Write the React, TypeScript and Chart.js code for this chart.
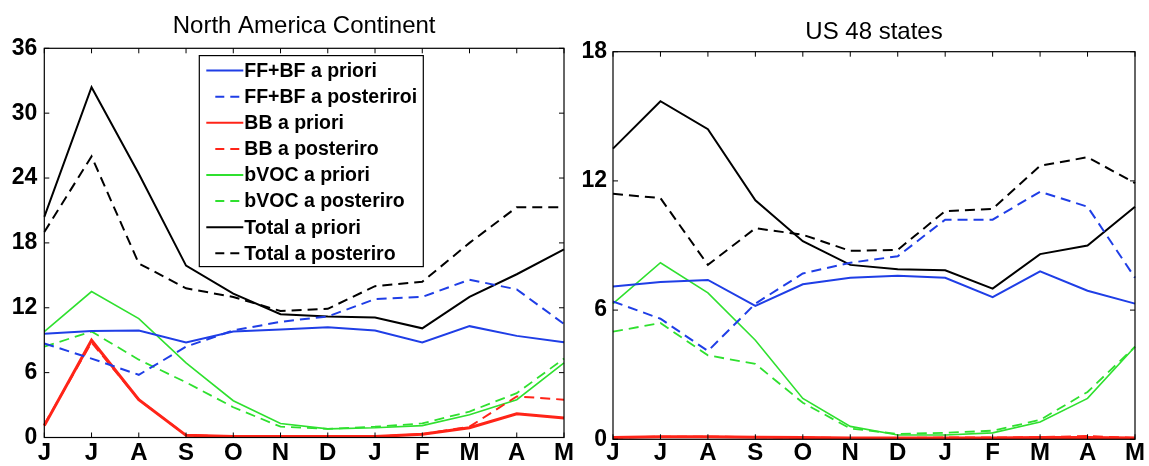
import React, { useEffect, useRef } from 'react';
import { Chart, registerables } from 'chart.js';

Chart.register(...registerables);

// ---------- data ----------
const months = ['J', 'J', 'A', 'S', 'O', 'N', 'D', 'J', 'F', 'M', 'A', 'M'];
const seriesLabels = [
  'FF+BF a priori',
  'FF+BF a posteriroi',
  'BB a priori',
  'BB a posteriro',
  'bVOC a priori',
  'bVOC a posteriro',
  'Total a priori',
  'Total a posteriro',
];

// North America Continent
const naFFPrior = [9.6, 9.85, 9.9, 8.8, 9.8, 10.0, 10.2, 9.9, 8.8, 10.3, 9.4, 8.8];
const naFFPost = [8.7, 7.3, 5.8, 8.4, 9.9, 10.7, 11.2, 12.8, 13.0, 14.6, 13.7, 10.5];
const naBBPrior = [1.1, 9.0, 3.5, 0.2, 0.1, 0.1, 0.1, 0.1, 0.3, 0.9, 2.2, 1.8];
const naBBPost = [1.2, 8.8, 3.5, 0.2, 0.1, 0.1, 0.1, 0.1, 0.3, 1.0, 3.8, 3.5];
const naVOCPrior = [9.8, 13.5, 11.0, 6.9, 3.4, 1.3, 0.8, 0.9, 1.1, 2.1, 3.5, 6.9];
const naVOCPost = [8.4, 9.8, 7.2, 5.1, 2.8, 1.0, 0.8, 1.0, 1.3, 2.4, 4.1, 7.3];
const naTotPrior = [20.4, 32.4, 24.4, 15.9, 13.3, 11.4, 11.2, 11.1, 10.1, 13.0, 15.1, 17.4];
const naTotPost = [19.0, 26.0, 16.1, 13.8, 13.0, 11.7, 11.9, 14.0, 14.4, 18.0, 21.3, 21.3];
const naTicks = [0, 6, 12, 18, 24, 30, 36];

// US 48 states
const usFFPrior = [7.1, 7.3, 7.4, 6.2, 7.2, 7.5, 7.6, 7.5, 6.6, 7.8, 6.9, 6.3];
const usFFPost = [6.4, 5.6, 4.1, 6.3, 7.7, 8.2, 8.5, 10.2, 10.2, 11.5, 10.8, 7.5];
const usBBPrior = [0.08, 0.12, 0.12, 0.1, 0.08, 0.06, 0.06, 0.06, 0.06, 0.08, 0.08, 0.06];
const usBBPost = [0.08, 0.12, 0.12, 0.1, 0.08, 0.06, 0.06, 0.08, 0.08, 0.1, 0.15, 0.06];
const usVOCPrior = [6.3, 8.2, 6.8, 4.6, 1.9, 0.6, 0.2, 0.2, 0.3, 0.8, 1.9, 4.3];
const usVOCPost = [5.0, 5.4, 3.9, 3.5, 1.7, 0.5, 0.25, 0.3, 0.4, 0.9, 2.2, 4.3];
const usTotPrior = [13.5, 15.7, 14.4, 11.1, 9.2, 8.1, 7.9, 7.85, 7.0, 8.6, 9.0, 10.8];
const usTotPost = [11.4, 11.2, 8.1, 9.8, 9.5, 8.75, 8.8, 10.6, 10.7, 12.7, 13.1, 11.9];
const usTicks = [0, 6, 12, 18];

// ---------- styles ----------
const FONT = "'Liberation Sans', Arial, Helvetica, sans-serif";
const BLUE = '#1f3ee6';
const RED = '#ff2418';
const GREEN = '#2fe02f';
const BLACK = '#000000';
const DASH = [10, 6];

const seriesStyle = [
  { color: BLUE, width: 2, dash: [] as number[] },
  { color: BLUE, width: 2, dash: DASH },
  { color: RED, width: 3, dash: [] as number[] },
  { color: RED, width: 2, dash: DASH },
  { color: GREEN, width: 1.6, dash: [] as number[] },
  { color: GREEN, width: 1.8, dash: DASH },
  { color: BLACK, width: 2, dash: [] as number[] },
  { color: BLACK, width: 2, dash: DASH },
];

// ---------- plugins ----------
const framePlugin = {
  id: 'frame',
  afterDatasetsDraw(chart: any) {
    const { ctx, chartArea: a, scales } = chart;
    const tl = 5;
    ctx.save();
    ctx.strokeStyle = '#000';
    ctx.lineWidth = 1.2;
    ctx.setLineDash([]);
    ctx.strokeRect(a.left, a.top, a.right - a.left, a.bottom - a.top);
    ctx.lineWidth = 1;
    const seg = (x1: number, y1: number, x2: number, y2: number) => {
      ctx.beginPath();
      ctx.moveTo(x1, y1);
      ctx.lineTo(x2, y2);
      ctx.stroke();
    };
    scales.x.ticks.forEach((_: any, i: number) => {
      const px = scales.x.getPixelForTick(i);
      seg(px, a.bottom, px, a.bottom - tl);
      seg(px, a.top, px, a.top + tl);
    });
    scales.y.ticks.forEach((_: any, i: number) => {
      const py = scales.y.getPixelForTick(i);
      seg(a.left, py, a.left + tl, py);
      seg(a.right, py, a.right - tl, py);
    });
    ctx.restore();
  },
};

const boxLegendPlugin = {
  id: 'boxLegend',
  afterDraw(chart: any, _args: any, opts: any) {
    if (!opts || !opts.display) return;
    const { ctx, chartArea: a } = chart;
    const left = a.left + opts.offsetX;
    const top = a.top + opts.offsetY;
    const w = opts.width;
    const h = opts.height;
    ctx.save();
    ctx.fillStyle = '#fff';
    ctx.fillRect(left, top, w, h);
    ctx.strokeStyle = '#000';
    ctx.lineWidth = 1.2;
    ctx.setLineDash([]);
    ctx.strokeRect(left, top, w, h);
    ctx.font = `bold 19.5px ${FONT}`;
    ctx.textBaseline = 'middle';
    ctx.textAlign = 'left';
    chart.data.datasets.forEach((ds: any, i: number) => {
      const y = top + 15 + i * 26.1;
      const dashed = ds.borderDash && ds.borderDash.length > 0;
      ctx.strokeStyle = ds.borderColor;
      ctx.lineWidth = 2;
      ctx.beginPath();
      if (dashed) {
        ctx.setLineDash([9, 6]);
        ctx.moveTo(left + 16, y);
        ctx.lineTo(left + 41, y);
      } else {
        ctx.setLineDash([]);
        ctx.moveTo(left + 7, y);
        ctx.lineTo(left + 44, y);
      }
      ctx.stroke();
      ctx.setLineDash([]);
      ctx.fillStyle = '#000';
      ctx.fillText(ds.label, left + 45, y + 1);
    });
    ctx.restore();
  },
};

// ---------- panel ----------
type PanelProps = {
  title: string;
  series: number[][];
  yTicks: number[];
  left: number;
  width: number;
  axisWidth: number;
  axisHeight: number;
  padRight: number;
  titlePadTop: number;
  titlePadBottom: number;
  xPad: number;
  yPad: number;
  legend: boolean;
};

function Panel(p: PanelProps) {
  const ref = useRef<HTMLCanvasElement | null>(null);
  useEffect(() => {
    if (!ref.current) return;
    const yMax = p.yTicks[p.yTicks.length - 1];
    const chart = new Chart(ref.current, {
      type: 'line',
      data: {
        labels: months,
        datasets: p.series.map((vals, i) => ({
          label: seriesLabels[i],
          data: vals,
          borderColor: seriesStyle[i].color,
          backgroundColor: seriesStyle[i].color,
          borderWidth: seriesStyle[i].width,
          borderDash: seriesStyle[i].dash,
          pointRadius: 0,
          tension: 0,
          fill: false,
        })),
      },
      options: {
        animation: false,
        responsive: false,
        devicePixelRatio: 1,
        layout: { padding: { left: 0, right: p.padRight, top: 0, bottom: 0 } },
        plugins: {
          legend: { display: false },
          tooltip: { enabled: false },
          title: {
            display: true,
            text: p.title,
            fullSize: false,
            color: '#000',
            font: { family: FONT, size: 24, weight: 'normal', lineHeight: 1.2 },
            padding: { top: p.titlePadTop, bottom: p.titlePadBottom },
          },
          boxLegend: {
            display: p.legend,
            offsetX: 155,
            offsetY: 7.3,
            width: 224,
            height: 211,
          },
        } as any,
        scales: {
          x: {
            type: 'category',
            offset: false,
            grid: { display: false, drawTicks: false },
            border: { display: false },
            ticks: {
              color: '#000',
              autoSkip: false,
              maxRotation: 0,
              padding: p.xPad,
              font: { family: FONT, size: 24, weight: 'bold', lineHeight: 1.2 },
            },
            afterFit: (s: any) => {
              s.height = p.axisHeight;
            },
          },
          y: {
            type: 'linear',
            min: 0,
            max: yMax,
            grid: { display: false, drawTicks: false },
            border: { display: false },
            afterBuildTicks: (s: any) => {
              s.ticks = p.yTicks.map((v) => ({ value: v }));
            },
            ticks: {
              color: '#000',
              padding: p.yPad,
              font: { family: FONT, size: 23, weight: 'bold' },
            },
            afterFit: (s: any) => {
              s.width = p.axisWidth;
            },
          },
        },
      },
      plugins: [framePlugin, boxLegendPlugin],
    } as any);
    return () => chart.destroy();
  }, []);
  return (
    <canvas
      ref={ref}
      width={p.width}
      height={466}
      style={{ position: 'absolute', left: p.left, top: 0, width: p.width, height: 466, display: 'block' }}
    />
  );
}

export default function App() {
  return (
    <div style={{ position: 'fixed', left: 0, top: 0, width: 1149, height: 466, background: '#fff', overflow: 'hidden' }}>
      <Panel
        title="North America Continent"
        series={[naFFPrior, naFFPost, naBBPrior, naBBPost, naVOCPrior, naVOCPost, naTotPrior, naTotPost]}
        yTicks={naTicks}
        left={0}
        width={575}
        axisWidth={44.3}
        axisHeight={28.5}
        padRight={8.5}
        titlePadTop={12.4}
        titlePadBottom={7.1}
        xPad={1}
        yPad={7}
        legend={true}
      />
      <Panel
        title="US 48 states"
        series={[usFFPrior, usFFPost, usBBPrior, usBBPost, usVOCPrior, usVOCPost, usTotPrior, usTotPost]}
        yTicks={usTicks}
        left={575}
        width={574}
        axisWidth={38}
        axisHeight={26.7}
        padRight={14}
        titlePadTop={18.1}
        titlePadBottom={4.8}
        xPad={0}
        yPad={6}
        legend={false}
      />
    </div>
  );
}
